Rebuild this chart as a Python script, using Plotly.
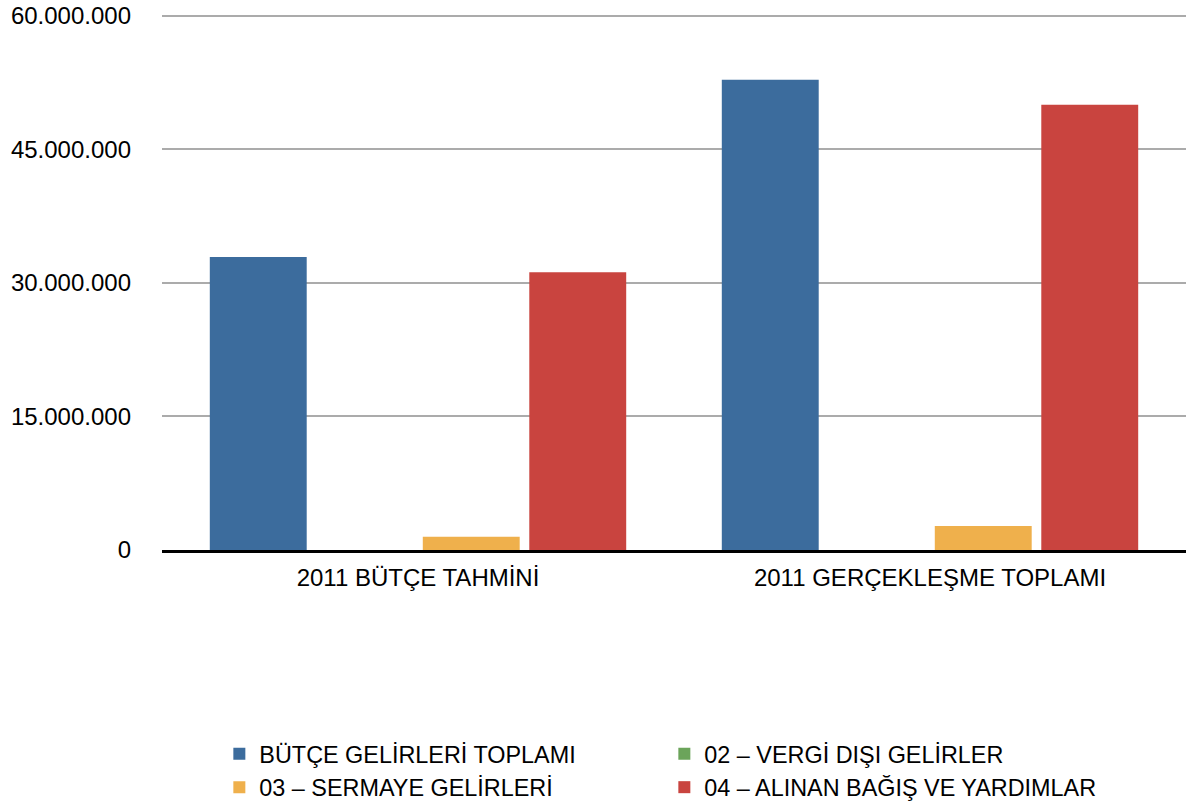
import plotly.graph_objects as go

categories = ["2011 BÜTÇE TAHMİNİ", "2011 GERÇEKLEŞME TOPLAMI"]
series_names = [
    "BÜTÇE GELİRLERİ TOPLAMI",
    "02 – VERGİ DIŞI GELİRLER",
    "03 – SERMAYE GELİRLERİ",
    "04 – ALINAN BAĞIŞ VE YARDIMLAR",
]
butce_toplami = [32900000, 52800000]
vergi_disi = [0, 0]
sermaye = [1500000, 2700000]
bagis_yardim = [31200000, 50000000]
series_values = [butce_toplami, vergi_disi, sermaye, bagis_yardim]
colors = ["#3c6c9d", "#6ba45a", "#efb04c", "#c9443f"]
y_tickvals = [0, 15000000, 30000000, 45000000, 60000000]

fig = go.Figure()
for name, vals, col in zip(series_names, series_values, colors):
    fig.add_trace(go.Bar(
        x=categories, y=vals, name=name,
        marker=dict(color=col, line=dict(width=0)),
    ))

fig.update_layout(
    width=1186, height=805,
    margin=dict(l=162, r=0, t=13, b=255, autoexpand=False),
    paper_bgcolor="white", plot_bgcolor="white",
    separators=",.",
    barmode="group", bargap=0.168, bargroupgap=0.09,
    font=dict(family="Liberation Sans, Arial, sans-serif", size=24, color="black"),
    showlegend=True,
    legend=dict(
        orientation="h", x=0.056, y=-0.339, xanchor="left", yanchor="top",
        entrywidth=400, entrywidthmode="pixels",
        font=dict(size=23.4, color="black"), tracegroupgap=0,
        itemsizing="constant",
    ),
)
fig.update_yaxes(
    range=[0, 60300000], tickvals=y_tickvals, tickformat=",d",
    showgrid=True, gridcolor="#ababab", gridwidth=2,
    zeroline=False, showline=False, ticks="", ticklabelstandoff=30,
    ticklabeloverflow="allow",
    tickfont=dict(size=24, color="black"),
)
fig.update_xaxes(
    showgrid=False, showline=True, linecolor="black", linewidth=3,
    ticks="", ticklabelstandoff=4, tickfont=dict(size=24, color="black"),
)

fig.write_html("out.html", config={"displayModeBar": False},
               post_script="document.body.style.margin='0';")
